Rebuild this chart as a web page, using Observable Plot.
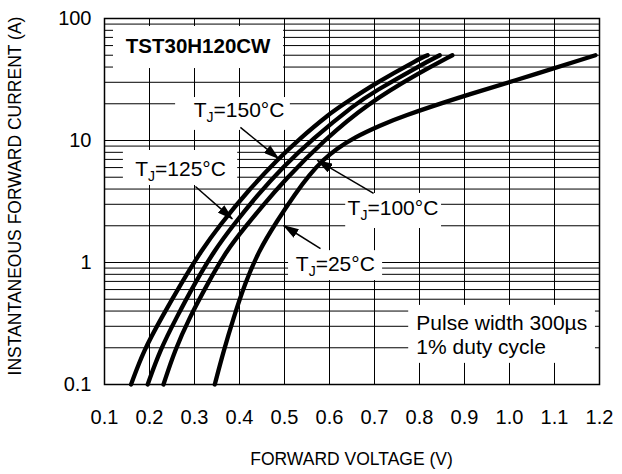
<!DOCTYPE html>
<html>
<head>
<meta charset="utf-8">
<script src="https://cdn.jsdelivr.net/npm/d3@7"></script>
<script src="https://cdn.jsdelivr.net/npm/@observablehq/plot@0.6"></script>
<style>
  body { margin: 0; background: white; }
  #chart { width: 622px; height: 474px; }
</style>
</head>
<body>
<div id="chart"></div>
<script>
// ---- data (V in volts, I in amperes) ----
const v150 = [0.159, 0.187, 0.227, 0.270, 0.315, 0.355, 0.420, 0.487, 0.529, 0.600, 0.633, 0.700, 0.800, 0.818];
const i150 = [0.10, 0.19, 0.354, 0.67, 1.25, 2.0, 3.93, 7.1, 10, 16.6, 20, 29.2, 46.8, 50];
const v125 = [0.196, 0.223, 0.260, 0.300, 0.344, 0.385, 0.440, 0.500, 0.558, 0.658, 0.700, 0.800, 0.845];
const i125 = [0.10, 0.19, 0.354, 0.67, 1.25, 2.0, 3.58, 6.22, 10, 20, 25.2, 41, 50];
const v100 = [0.231, 0.256, 0.289, 0.329, 0.371, 0.415, 0.450, 0.500, 0.587, 0.684, 0.800, 0.873];
const i100 = [0.10, 0.19, 0.354, 0.67, 1.25, 2.0, 2.88, 4.73, 10, 20, 36, 50];
const v25  = [0.345, 0.365, 0.387, 0.412, 0.443, 0.482, 0.524, 0.555, 0.585, 0.615, 0.655, 0.713, 0.758, 0.890, 1.000, 1.191];
const i25  = [0.10, 0.19, 0.354, 0.67, 1.25, 2.15, 3.67, 5.2, 6.9, 8.5, 10.6, 13.3, 15.6, 22.7, 30, 50];

const xTicks = [0.1, 0.2, 0.3, 0.4, 0.5, 0.6, 0.7, 0.8, 0.9, 1.0, 1.1, 1.2];
const xTickLabels = ["0.1", "0.2", "0.3", "0.4", "0.5", "0.6", "0.7", "0.8", "0.9", "1.0", "1.1", "1.2"];
const yTicks = [0.1, 1, 10, 100];
const yTickLabels = ["0.1", "1", "10", "100"];

const xTitle = "FORWARD VOLTAGE (V)";
const yTitle = "INSTANTANEOUS FORWARD CURRENT (A)";

// annotations (anchored in data space)
const labelText = ["TST30H120CW", "T_J=150°C", "T_J=125°C", "T_J=100°C", "T_J=25°C", "Pulse width 300µs", "1% duty cycle"];
const labelV    = [0.308, 0.399, 0.269, 0.741, 0.613, 0.793, 0.793];
const labelI    = [59, 17.6, 5.82, 2.77, 0.963, 0.319, 0.201];
const boxV1 = [0.120, 0.258, 0.142, 0.636, 0.509, 0.776];
const boxV2 = [0.498, 0.513, 0.396, 0.849, 0.718, 1.191];
const boxI1 = [38.9, 12.1, 4.28, 1.90, 0.711, 0.149];
const boxI2 = [86, 22.5, 8.28, 3.68, 1.25, 0.445];
const arrowV1 = [0.402, 0.302, 0.698, 0.580];
const arrowI1 = [12.8, 4.20, 3.68, 1.30];
const arrowV2 = [0.487, 0.384, 0.573, 0.498];
const arrowI2 = [7.11, 2.28, 6.86, 2.01];

// ---- build tables ----
const series = [
  {name: "150", v: v150, i: i150},
  {name: "125", v: v125, i: i125},
  {name: "100", v: v100, i: i100},
  {name: "25",  v: v25,  i: i25}
];
const curves = series.flatMap(s => s.v.map((v, k) => ({name: s.name, V: v, I: s.i[k]})));
const labels = labelText.map((t, k) => ({text: t, V: labelV[k], I: labelI[k], k}));
const boxes = boxV1.map((v, k) => ({v1: v, v2: boxV2[k], i1: boxI1[k], i2: boxI2[k]}));
const arrows = arrowV1.map((v, k) => ({v1: v, i1: arrowI1[k], v2: arrowV2[k], i2: arrowI2[k]}));

const yGrid = [];
for (const dec of [0.1, 1, 10]) for (let m = 1; m <= 9; m++) yGrid.push(+(dec * m).toPrecision(3));
yGrid.push(100);

const font = "'Liberation Sans', Arial, Helvetica, sans-serif";

const chart = Plot.plot({
  width: 622,
  height: 474,
  marginLeft: 104,
  marginRight: 23,
  marginTop: 18,
  marginBottom: 90,
  style: {fontFamily: font, fontSize: "20px", color: "#000", background: "white"},
  x: {domain: [0.1, 1.2], ticks: xTicks, tickFormat: d => xTickLabels[xTicks.indexOf(d)], tickSize: 0, tickPadding: 25, label: null},
  y: {type: "log", domain: [0.1, 100], ticks: yTicks, tickFormat: d => yTickLabels[yTicks.indexOf(d)], tickSize: 0, tickPadding: 13, label: null},
  marks: [
    Plot.ruleY(yGrid, {y: d => d, stroke: "#000", strokeWidth: 1}),
    Plot.ruleX(xTicks, {x: d => d, stroke: "#000", strokeWidth: 1}),
    Plot.rect(boxes, {x1: "v1", x2: "v2", y1: "i1", y2: "i2", fill: "white"}),
    Plot.line(curves, {x: "V", y: "I", z: "name", stroke: "#000", strokeWidth: 4.3, curve: "basis", strokeLinecap: "round", strokeLinejoin: "round"}),
    Plot.frame({stroke: "#000", strokeWidth: 1.5}),
    Plot.link(arrows, {x1: "v1", y1: "i1", x2: "v2", y2: "i2", stroke: "#000", strokeWidth: 1.5}),
    Plot.text(labels.filter(d => d.k === 0), {x: "V", y: "I", text: "text", fontSize: 20.5, fontWeight: "bold", textAnchor: "middle", fill: "#000"}),
    Plot.text(labels.filter(d => d.k >= 1 && d.k <= 4), {x: "V", y: "I", text: "text", fontSize: 21, textAnchor: "middle", fill: "#000"}),
    Plot.text(labels.filter(d => d.k >= 5), {x: "V", y: "I", text: "text", fontSize: 21, textAnchor: "start", fill: "#000"})
  ]
});

const svg = d3.select(chart);

// arrowhead marker
const defs = svg.append("defs");
defs.append("marker")
  .attr("id", "ahead")
  .attr("viewBox", "0 0 16 10")
  .attr("refX", 15).attr("refY", 5)
  .attr("markerWidth", 16).attr("markerHeight", 10)
  .attr("markerUnits", "userSpaceOnUse")
  .attr("orient", "auto")
  .append("path").attr("d", "M0,0L16,5L0,10Z").attr("fill", "#000");
svg.selectAll('g[aria-label="link"] path').attr("marker-end", "url(#ahead)");

// subscript J
svg.selectAll("text").each(function () {
  const t = this.textContent;
  if (t.startsWith("T_J")) {
    const rest = t.slice(3);
    const s = d3.select(this);
    s.text(null);
    s.append("tspan").text("T");
    s.append("tspan").attr("font-size", 14).attr("dy", 5).text("J");
    s.append("tspan").attr("dy", -5).text(rest);
  }
});

// axis titles
svg.append("text")
  .attr("x", 351.5).attr("y", 459)
  .attr("text-anchor", "middle").attr("dy", "0.35em")
  .attr("font-family", font).attr("font-size", 17.5).attr("fill", "#000")
  .text(xTitle);
svg.append("text")
  .attr("transform", "translate(15,196) rotate(-90)")
  .attr("text-anchor", "middle").attr("dy", "0.35em")
  .attr("font-family", font).attr("font-size", 17.5).attr("fill", "#000")
  .text(yTitle);

document.getElementById("chart").appendChild(chart);
</script>
</body>
</html>
